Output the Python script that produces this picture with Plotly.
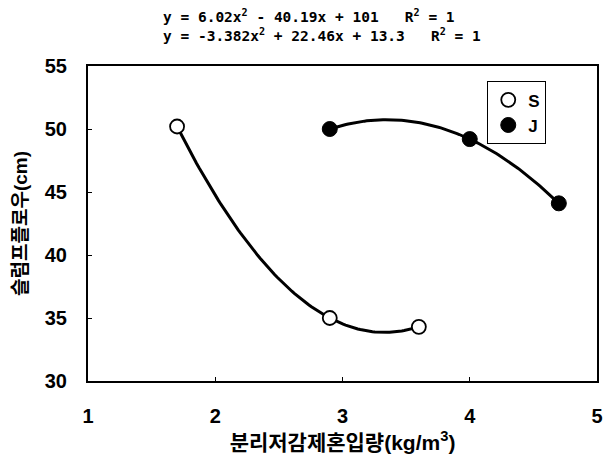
import numpy as np
import plotly.graph_objects as go

s_x = [1.7, 2.9, 3.6]
s_y = [50.2, 35.0, 34.3]
j_x = [2.9, 4.0, 4.7]
j_y = [50.0, 49.2, 44.1]
eq_lines = ["y = 6.02x<sup>2</sup> - 40.19x + 101   R<sup>2</sup> = 1",
            "y = -3.382x<sup>2</sup> + 22.46x + 13.3   R<sup>2</sup> = 1"]
x_title = "분리저감제혼입량(kg/m<sup>3</sup>)"
y_title = "슬럼프플로우(cm)"

FONT = "Liberation Sans, Arial, Noto Sans CJK KR"
MONO = "DejaVu Sans Mono, Liberation Mono"

fig = go.Figure()

def trend(xs, ys):
    c = np.polyfit(xs, ys, 2)
    xx = np.linspace(min(xs), max(xs), 100)
    return xx, np.polyval(c, xx)

for xs, ys in [(s_x, s_y), (j_x, j_y)]:
    xx, yy = trend(xs, ys)
    fig.add_trace(go.Scatter(x=xx, y=yy, mode="lines", line=dict(color="black", width=3),
                             showlegend=False, hoverinfo="skip"))

fig.add_trace(go.Scatter(x=s_x, y=s_y, mode="markers", name="<b>S</b>",
                         marker=dict(symbol="circle", size=14, color="white",
                                     line=dict(color="black", width=1.8))))
fig.add_trace(go.Scatter(x=j_x, y=j_y, mode="markers", name="<b>J</b>",
                         marker=dict(symbol="circle", size=15, color="black",
                                     line=dict(color="black", width=1))))

fig.update_layout(
    width=608, height=454,
    margin=dict(l=88, r=11, t=66, b=73, autoexpand=False),
    paper_bgcolor="white", plot_bgcolor="white",
    font=dict(family=FONT, color="black"),
    xaxis=dict(range=[1, 5], dtick=1, ticks="inside", ticklen=4, tickwidth=1, tickcolor="black",
               showline=True, linecolor="black", linewidth=2, mirror=True, showgrid=False,
               automargin=False,
               zeroline=False, tickfont=dict(size=20, family=FONT, weight="bold"), ticklabelstandoff=16,
               title=dict(text="<b>" + x_title + "</b>", font=dict(size=21), standoff=10)),
    yaxis=dict(range=[30, 55], dtick=5, ticks="inside", ticklen=4, tickwidth=1, tickcolor="black",
               showline=True, linecolor="black", linewidth=2, mirror=True, showgrid=False,
               automargin=False,
               zeroline=False, tickfont=dict(size=20, family=FONT, weight="bold"), ticklabelstandoff=15,
               title=dict(text="<b>" + y_title + "</b>", font=dict(size=19), standoff=12)),
    legend=dict(x=0.784, y=0.952, xanchor="left", yanchor="top",
                bordercolor="black", borderwidth=1.2, bgcolor="white",
                font=dict(size=17, family=FONT), itemwidth=30, tracegroupgap=0),
)

fig.add_annotation(text="<b>" + eq_lines[0] + "<br>" + eq_lines[1] + "</b>",
                   xref="paper", x=0.0, xshift=163 - 88 - 2, y=1.0, yshift=20, yref="paper",
                   xanchor="left", yanchor="bottom", showarrow=False, align="left",
                   font=dict(size=14.5, family=MONO))

fig.write_html("out.html")
